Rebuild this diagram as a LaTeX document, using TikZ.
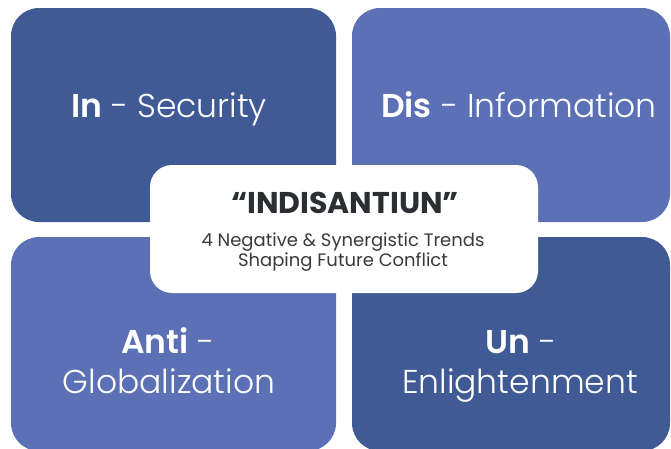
\documentclass[tikz,border=0pt]{standalone}
\usepackage{fontspec}
\setmainfont{Poppins}
\newfontfamily\lightfont{Poppins Light}
\usetikzlibrary{positioning}

\definecolor{darkquad}{HTML}{405A96}
\definecolor{lightquad}{HTML}{5B70B5}
\definecolor{titlegray}{HTML}{2B2F33}
\definecolor{subgray}{HTML}{3A3A3A}

\begin{document}
\begin{tikzpicture}[
    x=1pt, y=-1pt,
    quad/.style={rounded corners=28pt, inner sep=0pt, minimum height=214pt},
    core/.style={fill=white, rounded corners=22pt, inner sep=0pt,
                 minimum width=388pt, minimum height=128pt},
    label/.style={anchor=base, text=white, inner sep=0pt,
                  font=\lightfont\fontsize{33}{38}\selectfont},
    sub/.style={anchor=base, text=subgray, inner sep=0pt,
                font=\fontsize{18}{21}\selectfont}
  ]
  \clip (0,0) rectangle (671,448);

  % Quadrants
  \node[quad, fill=darkquad, minimum width=325pt] (tl) at (173.5,115) {};
  \node[quad, fill=lightquad, minimum width=318pt] (tr) at (511,115) {};
  \node[quad, fill=lightquad, minimum width=325pt] (bl) at (173.5,344) {};
  \node[quad, fill=darkquad, minimum width=318pt] (br) at (511,344) {};

  % Quadrant labels
  \node[label] (tl-text) at (169,117) {{\bfseries In} - Security};
  \node[label] (tr-text) at (519,117) {{\bfseries Dis} - Information};
  \node[label] (bl-pre) at (168,353) {{\bfseries Anti} -};
  \node[label] (bl-text) at (169,393) {Globalization};
  \node[label] (br-pre) at (521,353) {{\bfseries Un} -};
  \node[label] (br-text) at (520,393) {Enlightenment};

  % Centre box
  \node[core] (mid) at (344,229) {};
  \node[anchor=base, inner sep=0pt, text=titlegray,
        font=\bfseries\fontsize{30}{34}\selectfont] (mid-title) at (345,213)
    {“INDISANTIUN”};
  \node[sub] (mid-l1) at (343,246) {4 Negative \& Synergistic Trends};
  \node[sub] (mid-l2) at (343,266) {Shaping Future Conflict};
\end{tikzpicture}
\end{document}
